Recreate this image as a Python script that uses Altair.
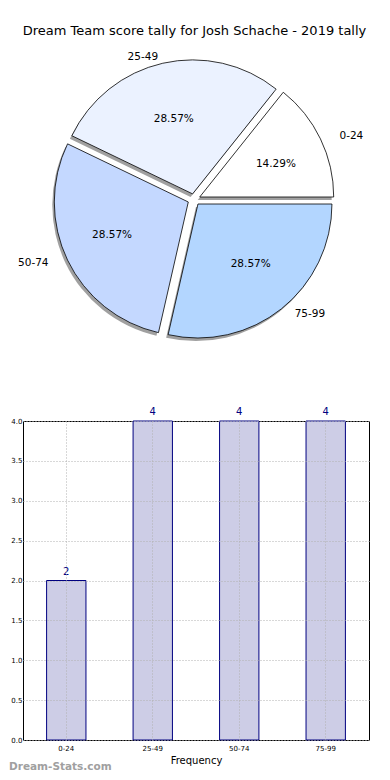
import math
import altair as alt
import pandas as pd

# ---- data ----
categories = ["0-24", "25-49", "50-74", "75-99"]
counts = [2, 4, 4, 4]
pie_colors = ["#ffffff", "#ebf2ff", "#c4d8ff", "#b3d6ff"]
y_ticks = [0.0, 0.5, 1.0, 1.5, 2.0, 2.5, 3.0, 3.5, 4.0]
title_text = "Dream Team score tally for Josh Schache - 2019 tally"
watermark = "Dream-Stats.com"

FONT = "DejaVu Sans"

# ---- layout constants (pixels inside the pie view) ----
CX, CY = 171, 190.5
R = 134          # arc radius
RX, RY = 141, 128  # label ellipse radii
EXP = 0.045      # explode fraction

df = pd.DataFrame({"cat": categories, "count": counts, "idx": list(range(len(categories)))})

pie_base = alt.Chart(df).transform_joinaggregate(
    total="sum(count)"
).transform_window(
    cum_end="sum(count)", sort=[alt.SortField("idx")], frame=[None, 0]
).transform_calculate(
    cum_start="datum.cum_end - datum.count",
).transform_calculate(
    mid="(datum.cum_start + datum.cum_end) / datum.total * PI",
    th1="2.5*PI - datum.cum_end / datum.total * 2 * PI",
    th2="2.5*PI - datum.cum_start / datum.total * 2 * PI",
).transform_calculate(
    cxp=f"{CX} + {EXP}*{RX}*cos(datum.mid)",
    cyp=f"{CY} - {EXP}*{RY}*sin(datum.mid)",
).transform_calculate(
    sx="datum.cxp - 2",
    sy="datum.cyp + 3",
    lx=f"datum.cxp + 1.1*{RX}*cos(datum.mid)",
    ly=f"datum.cyp - 1.1*{RY}*sin(datum.mid)",
    px=f"datum.cxp + 0.6*{RX}*cos(datum.mid)",
    py=f"datum.cyp - 0.6*{RY}*sin(datum.mid)",
    pct="format(datum.count / datum.total * 100, '.2f') + '%'",
    right="cos(datum.mid) > 0 ? 1 : 0",
)

shadow = pie_base.mark_arc(radius=R, fill="#808080", opacity=0.75).encode(
    x=alt.X("sx:Q", scale=None, axis=None),
    y=alt.Y("sy:Q", scale=None, axis=None),
    theta=alt.Theta("th1:Q", scale=None),
    theta2="th2:Q",
)

arcs = pie_base.mark_arc(radius=R, stroke="black", strokeWidth=0.8).encode(
    x=alt.X("cxp:Q", scale=None, axis=None),
    y=alt.Y("cyp:Q", scale=None, axis=None),
    theta=alt.Theta("th1:Q", scale=None),
    theta2="th2:Q",
    color=alt.Color("cat:N", scale=alt.Scale(domain=categories, range=pie_colors), legend=None),
)

lab_left = pie_base.transform_filter("datum.right == 1").mark_text(
    align="left", baseline="middle", fontSize=10.5, font=FONT, color="black"
).encode(x=alt.X("lx:Q", scale=None, axis=None), y=alt.Y("ly:Q", scale=None, axis=None), text="cat:N")

lab_right = pie_base.transform_filter("datum.right == 0").mark_text(
    align="right", baseline="middle", fontSize=10.5, font=FONT, color="black"
).encode(x=alt.X("lx:Q", scale=None, axis=None), y=alt.Y("ly:Q", scale=None, axis=None), text="cat:N")

pct_text = pie_base.mark_text(
    align="center", baseline="middle", fontSize=10.5, font=FONT, color="black"
).encode(x=alt.X("px:Q", scale=None, axis=None), y=alt.Y("py:Q", scale=None, axis=None), text="pct:N")

title_mark = alt.Chart(pd.DataFrame({"t": [title_text]})).mark_text(
    align="center", baseline="middle", fontSize=13, font=FONT, color="black"
).encode(x=alt.value(171.5), y=alt.value(22), text="t:N")

pie = alt.layer(shadow, arcs, lab_left, lab_right, pct_text, title_mark).properties(
    width=350, height=389, view=alt.ViewBackground(stroke="transparent")
)

# ---- bar chart ----
xenc = alt.X(
    "cat:N", sort=categories,
    scale=alt.Scale(domain=categories, paddingInner=0.545, paddingOuter=0.273),
    axis=alt.Axis(title="Frequency", labelAngle=0, labelFontSize=7, titleFontSize=10,
                  ticks=False, domain=False, grid=True, bandPosition=0.5,
                  gridDash=[1, 2], gridColor="#b0b0b0", labelPadding=4, titlePadding=4,
                  zindex=1, labelColor="black", titleColor="black", titleFontWeight="normal"),
)
yenc = alt.Y(
    "count:Q", scale=alt.Scale(domain=[0, 4], nice=False),
    axis=alt.Axis(title=None, values=y_ticks, format=".1f", labelFontSize=7, ticks=False,
                  domain=False, grid=True, gridDash=[1, 2], gridColor="#b0b0b0",
                  labelPadding=1, zindex=1, labelColor="black", labelOverlap=False),
)

bar_base = alt.Chart(df)
bars = bar_base.mark_bar(fill="#cdcde6", stroke="#000080", strokeWidth=1).encode(x=xenc, y=yenc)
vals = bar_base.mark_text(dy=-9, color="#000080", fontSize=10, font=FONT).encode(
    x=xenc, y=yenc, text="count:Q"
)
wm = alt.Chart(pd.DataFrame({"t": [watermark]})).mark_text(
    align="left", baseline="middle", fontSize=10.5, font=FONT, fontWeight="bold", color="#a0a0a0"
).encode(x=alt.value(-14), y=alt.value(346), text="t:N")

bar = alt.layer(bars, vals, wm).properties(
    width=346, height=319, view=alt.ViewBackground(stroke="black", strokeWidth=1)
)

chart = alt.vconcat(pie, bar, spacing=7).properties(padding=0).configure(
    font=FONT
).configure_view(stroke="black")

chart.save("out.html", embed_options={"renderer": "svg", "actions": False})
